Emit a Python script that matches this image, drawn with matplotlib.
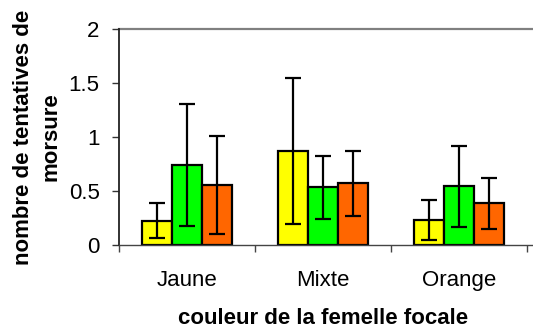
from matplotlib import pyplot as plt
import numpy as np

plt.rcParams['font.family'] = ['Liberation Sans', 'DejaVu Sans']

categories = ['Jaune', 'Mixte', 'Orange']
series_colors = ['#FFFF00', '#00FF00', '#FF6600']

# mean number of bite attempts, one list per stimulus colour
means_yellow = [0.225, 0.87, 0.235]
means_green = [0.745, 0.535, 0.545]
means_orange = [0.555, 0.57, 0.385]

err_yellow = [0.16, 0.675, 0.185]
err_green = [0.565, 0.29, 0.375]
err_orange = [0.45, 0.30, 0.235]

means = [means_yellow, means_green, means_orange]
errs = [err_yellow, err_green, err_orange]

FS = 16
fig = plt.figure(figsize=(5.33, 3.31), dpi=100)
ax = fig.add_axes([119 / 533, 86 / 331, 414 / 533, 216 / 331])

width = 30 / 136
centers = np.arange(len(categories)) + 0.5
for k in range(3):
    x = centers + (k - 1) * width
    ax.bar(x, means[k], width, color=series_colors[k], edgecolor='black',
           linewidth=1.6, zorder=2)
    ax.errorbar(x, means[k], yerr=errs[k], fmt='none', ecolor='black',
                elinewidth=1.6, capsize=5.8, capthick=1.6, zorder=3)

ax.set_xlim(0, 414 / 136)
ax.set_ylim(0, 2)
ax.axhline(2, color='#808080', linewidth=1.6, clip_on=False, zorder=1)

ax.spines['top'].set_visible(False)
ax.spines['right'].set_visible(False)
ax.spines['left'].set_linewidth(1.3)
ax.spines['left'].set_color('#222222')
ax.spines['bottom'].set_linewidth(1.0)
ax.spines['bottom'].set_color('#444444')

ax.set_yticks([0, 0.5, 1, 1.5, 2])
ax.set_yticklabels(['0', '0.5', '1', '1.5', '2'])
ax.tick_params(axis='y', direction='out', length=5, width=1.0, pad=9,
               labelsize=FS, labelcolor='black', color='#333333')

# category boundaries as ticks, names at the centres
ax.set_xticks([0, 1, 2, 3])
ax.set_xticklabels([])
ax.set_xticks(centers, minor=True)
ax.set_xticklabels(categories, minor=True)
ax.tick_params(axis='x', which='major', direction='out', length=5, width=1.0,
               color='#444444')
ax.tick_params(axis='x', which='minor', length=0, pad=18, labelsize=FS)

ax.set_xlabel('couleur de la femelle focale', fontsize=FS, fontweight='bold')
ax.xaxis.set_label_coords((323 - 119) / 414, -0.29)
ax.set_ylabel('nombre de tentatives de\nmorsure', fontsize=FS,
              fontweight='bold', linespacing=1.35)
ax.yaxis.set_label_coords(-0.14, 0.5)

plt.savefig('out.png', dpi=100)
